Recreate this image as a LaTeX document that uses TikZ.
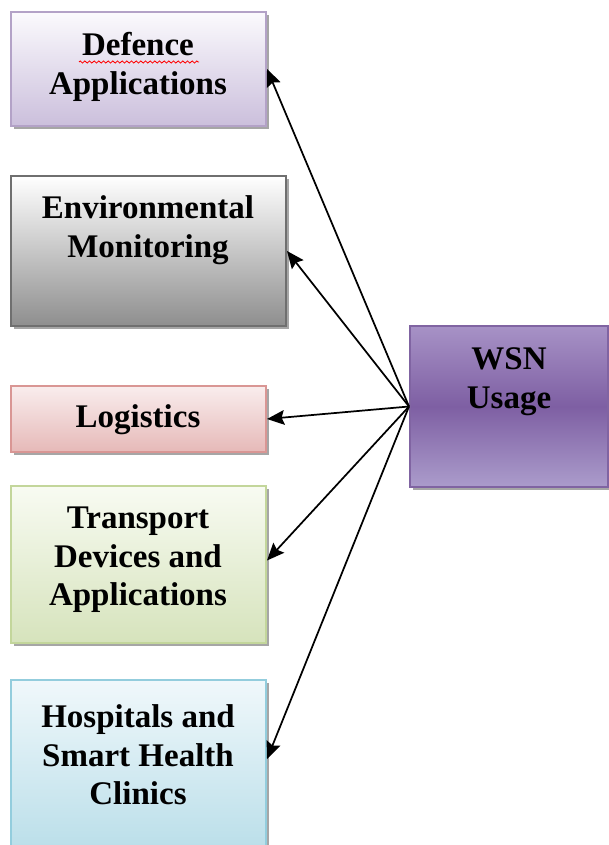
\documentclass[tikz,border=0pt]{standalone}
\usepackage{fontspec}
\setmainfont{Liberation Serif}
\usetikzlibrary{arrows.meta,shadows,fit,calc,decorations.pathmorphing}
\definecolor{defTop}{HTML}{FBFAFD}
\definecolor{defBot}{HTML}{CBBFDC}
\definecolor{defLine}{HTML}{B3A2C7}
\definecolor{envTop}{HTML}{FFFFFF}
\definecolor{envBot}{HTML}{8E8E8E}
\definecolor{envLine}{HTML}{6F6F6F}
\definecolor{logTop}{HTML}{F9EDED}
\definecolor{logBot}{HTML}{E6B9B8}
\definecolor{logLine}{HTML}{D99694}
\definecolor{traTop}{HTML}{F8FBF2}
\definecolor{traBot}{HTML}{D6E3BC}
\definecolor{traLine}{HTML}{C3D69B}
\definecolor{hosTop}{HTML}{F0F8FB}
\definecolor{hosBot}{HTML}{B7DDE8}
\definecolor{hosLine}{HTML}{93CDDD}
\definecolor{wsnTop}{HTML}{A792C6}
\definecolor{wsnMid}{HTML}{7E5FA3}
\definecolor{wsnBot}{HTML}{AB9CCB}
\definecolor{wsnLine}{HTML}{8064A2}
\tikzset{
  boxbase/.style={inner sep=0pt, line width=1.5pt,
    drop shadow={shadow xshift=2.2pt, shadow yshift=-2.6pt, fill=black, opacity=0.35}},
  lbl/.style={font=\bfseries\fontsize{24.75}{29}\selectfont, align=center, inner sep=0pt},
  conn/.style={line width=1.3pt, -{Stealth[length=13pt,width=11pt,inset=2pt]}}
}
\begin{document}
\begin{tikzpicture}[x=0.75pt,y=-0.75pt]
\useasboundingbox (0,0) rectangle (609,845);
\clip (0,0) rectangle (609,845);
% boxes
\node[boxbase, draw=defLine, top color=defTop, bottom color=defBot, fit={(11,12) (266,126)}] (def) {};
\node[boxbase, draw=envLine, top color=envTop, bottom color=envBot, fit={(11,176) (286,326)}] (env) {};
\node[boxbase, draw=logLine, top color=logTop, bottom color=logBot, fit={(11,386) (266,452)}] (log) {};
\node[boxbase, draw=traLine, top color=traTop, bottom color=traBot, fit={(11,486) (266,643)}] (tra) {};
\node[boxbase, draw=hosLine, top color=hosTop, bottom color=hosBot, fit={(11,680) (266,860)}] (hos) {};
\node[boxbase, draw=wsnLine, top color=wsnTop, bottom color=wsnBot, middle color=wsnMid, fit={(410,326) (608,487)}] (wsn) {};
% labels
\node[lbl] (tdef) at (138,67) {Defence\\Applications};
\node[lbl] (tenv) at (148,230) {Environmental\\Monitoring};
\node[lbl] (tlog) at (138,420) {Logistics};
\node[lbl] (ttra) at (138,560) {Transport\\Devices and\\Applications};
\node[lbl] (thos) at (138,755) {Hospitals and\\Smart Health\\Clinics};
\node[lbl] (twsn) at (509,382) {WSN\\Usage};
% spell-check squiggle
\coordinate (sqa) at (79,62);
\coordinate (sqb) at (199,62);
\draw[red, line width=0.6pt, decorate, decoration={zigzag, segment length=3.5pt, amplitude=0.8pt}] (sqa) -- (sqb);
% connectors
\coordinate (hosTip) at ($(hos.north east)!0.44!(hos.south east)$);
\draw[conn] (wsn.west) -- (def.east);
\draw[conn] (wsn.west) -- (env.east);
\draw[conn] (wsn.west) -- (log.east);
\draw[conn] (wsn.west) -- ([yshift=3pt]tra.east);
\draw[conn] (wsn.west) -- (hosTip);
\end{tikzpicture}
\end{document}
